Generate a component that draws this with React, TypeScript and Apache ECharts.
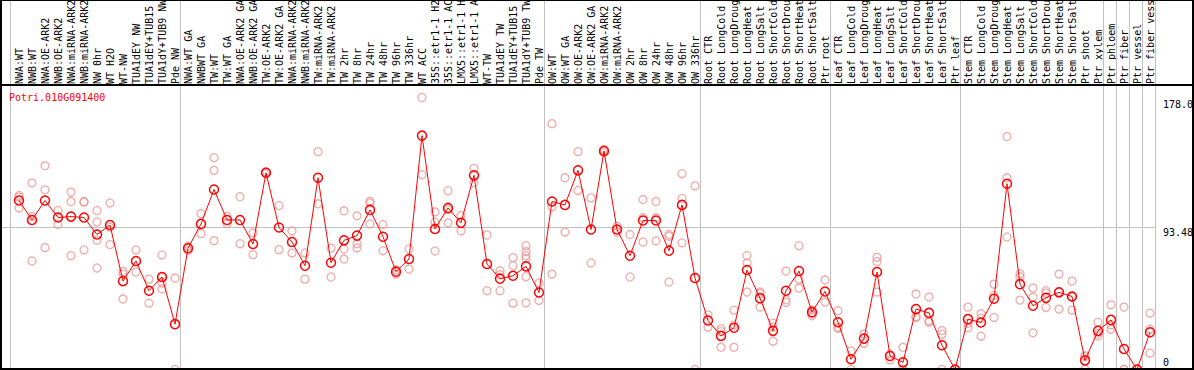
import React, { useEffect, useRef } from "react";
import * as echarts from "echarts";

const geneId = "Potri.010G091400";

const categories = [
  "NWA:WT", "NWB:WT", "NWA:OE-ARK2", "NWB:OE-ARK2", "NWA:miRNA-ARK2", "NWB:miRNA-ARK2",
  "NW 0hr", "WT H2O", "WT-NW", "TUA1dEY NW", "TUA1dEY+TUB15 NW", "TUA1dY+TUB9 NW", "Pde NW",
  "NWA:WT GA", "NWBWT GA", "TW:WT", "TW:WT GA", "NWA:OE-ARK2 GA", "NWB:OE-ARK2 GA",
  "TW:OE-ARK2", "TW:OE-ARK2 GA", "NWA:miRNA-ARK2 GA", "NWB:miRNA-ARK2 GA", "TW:miRNA-ARK2",
  "TW:miRNA-ARK2 GA", "TW 2hr", "TW 8hr", "TW 24hr", "TW 48hr", "TW 96hr", "TW 336hr",
  "WT ACC", "35S::etr1-1 H2O", "35S::etr1-1 ACC", "LMX5::etr1-1 H2O", "LMX5::etr1-1 ACC",
  "WT-TW", "TUA1dEY TW", "TUA1dEY+TUB15 TW", "TUA1dY+TUB9 TW", "Pde TW",
  "OW:WT", "OW:WT GA", "OW:OE-ARK2", "OW:OE-ARK2 GA", "OW:miRNA-ARK2", "OW:miRNA-ARK2 GA",
  "OW 2hr", "OW 8hr", "OW 24hr", "OW 48hr", "OW 96hr", "OW 336hr",
  "Root CTR", "Root LongCold", "Root LongDrought", "Root LongHeat", "Root LongSalt",
  "Root ShortCold", "Root ShortDrought", "Root ShortHeat", "Root ShortSalt", "Ptr root",
  "Leaf CTR", "Leaf LongCold", "Leaf LongDrought", "Leaf LongHeat", "Leaf LongSalt",
  "Leaf ShortCold", "Leaf ShortDrought", "Leaf ShortHeat", "Leaf ShortSalt", "Ptr leaf",
  "Stem CTR", "Stem LongCold", "Stem LongDrought", "Stem LongHeat", "Stem LongSalt",
  "Stem ShortCold", "Stem ShortDrought", "Stem ShortHeat", "Stem ShortSalt", "Ptr shoot",
  "Ptr xylem", "Ptr phloem", "Ptr fiber", "Ptr vessel", "Ptr fiber vessel",
];

const means = [
  111.1, 98.3, 111.1, 99.9, 100.5, 99.9, 88.7, 95.0, 58.1, 71.3, 51.8, 60.8, 29.8,
  79.7, 95.7, 118.3, 98.3, 98.3, 82.5, 129.3, 93.3, 83.8, 68.2, 126.0, 70.2, 84.9, 88.0,
  104.9, 87.3, 64.3, 72.6, 153.7, 92.4, 106.2, 96.4, 127.6, 69.3, 59.7, 61.6, 67.8, 50.6,
  110.4, 108.2, 130.9, 92.0, 143.6, 92.0, 74.8, 97.9, 97.9, 78.1, 108.2, 60.1,
  32.2, 22.1, 27.4, 65.4, 46.9, 25.4, 51.8, 64.7, 37.7, 51.3,
  31.1, 6.7, 20.3, 64.1, 8.9, 4.7, 39.7, 37.2, 15.9, 0,
  33.1, 30.9, 46.5, 122.1, 56.1, 41.9, 47.1, 50.7, 48.0, 6.0, 25.4,
  32.6, 13.5, 0, 24.5,
];

const replicates = [
  [114.4, 113.3, 106.2], [122.7, 100.5, 71.3], [133.9, 118.1, 80.1], [104.5, 95.5],
  [116.6, 110.4, 74.8], [110.4, 110.0, 78.6], [104.5, 97.0, 84.9, 66.7], [109.5, 93.5, 82.1],
  [64.5, 62.7, 46.3], [78.6, 64.1], [59.4, 43.6], [75.3, 61.0, 56.8, 52.9], [60.1, 0],
  [81.0, 78.3], [102.5, 89.3], [139.2, 130.9, 84.7], [100.8, 95.9], [113.5, 82.7],
  [89.8, 75.5], [130.0, 128.7], [107.8, 78.8], [91.1, 76.6], [76.6, 59.4], [143.2, 108.9],
  [79.7, 60.8], [104.3, 79.2, 72.6], [101.0, 82.7, 79.9], [110.6, 109.5, 95.7], [95.3, 78.1],
  [65.6, 62.7], [79.2, 66.0], [178.8, 128.0], [103.6, 96.8, 77.9], [117.5, 105.1, 96.4],
  [101.2, 91.1], [132.2, 122.7], [88.4, 51.8], [64.9, 62.3, 51.8], [73.5, 68.2, 43.6],
  [81.4, 77.5, 74.8, 72.8, 61.0, 43.8], [56.8, 45.4],
  [161.6, 106.9, 62.7], [126.0, 90.4], [143.2, 117.7], [112.8, 70.0], [144.7, 142.5],
  [94.2, 90.2], [88.7, 60.8], [111.7, 99.7, 83.8], [110.4, 99.7, 84.5], [88.7, 87.6, 57.5],
  [128.7, 112.4, 83.2], [120.7, 0],
  [35.9, 27.8], [26.7, 24.9, 14.6], [39.0, 29.3, 14.6], [74.8, 70.0, 50.9], [50.9, 49.8, 41.0],
  [30.4, 27.8, 18.6], [64.7, 45.8, 44.1], [81.4, 59.4, 53.5], [39.2, 36.6, 35.3], [58.8, 44.3],
  [38.6, 27.8, 26.9], [12.2, 0], [23.4, 17.3], [73.7, 71.0, 50.9], [10.2, 6.3], [14.6, 0, 0],
  [49.6, 34.8, 34.2], [47.6, 32.0, 31.1], [25.6, 23.2, 0], [0],
  [41.0, 30.4, 27.4], [36.6, 33.7, 21.9], [56.1, 48.7, 34.2], [153.1, 126.0, 87.1],
  [63.0, 60.8, 45.6], [53.5, 47.6, 24.1], [51.8, 50.2, 40.8], [62.7, 50.9, 39.7],
  [58.1, 47.6, 39.0], [9.1, 8.5, 0], [31.1, 23.8, 22.1],
  [42.5, 29.3, 26.5], [41.0, 0, 0], [0], [37.0, 26.5, 10.7],
];

// index of the last category in each group (vertical separators)
const groupEnds = [12, 40, 52, 62, 72, 83, 84, 85, 86, 87];
const yTickValues = [178.0, 93.48, 0];
const yTickLabels = ["178.0", "93.48", "0"];
const labelChars = 14;

const FONT = "'DejaVu Sans Mono', monospace";

export default function App() {
  const ref = useRef<HTMLDivElement>(null);

  useEffect(() => {
    if (!ref.current) return;
    const chart = echarts.init(ref.current, null, { renderer: "svg" });
    const scatterData: number[][] = [];
    replicates.forEach((reps, i) => reps.forEach((v) => scatterData.push([i, v])));

    chart.setOption({
      animation: false,
      backgroundColor: "#ffffff",
      grid: {
        left: 12.5,
        top: 85,
        width: 1144,
        height: 284.5,
        containLabel: false,
        outerBoundsMode: "none",
      },
      xAxis: {
        type: "category",
        data: categories,
        position: "top",
        boundaryGap: true,
        axisLine: { show: false },
        axisTick: { show: false },
        splitLine: { show: false },
        axisLabel: {
          interval: 0,
          rotate: 90,
          margin: 1,
          fontFamily: FONT,
          fontSize: 10,
          color: "#000000",
          formatter: (s: string) => s.slice(0, labelChars).trimEnd(),
        },
      },
      yAxis: {
        type: "value",
        min: 0,
        max: 187,
        show: false,
        splitLine: { show: false },
      },
      series: [
        {
          type: "scatter",
          data: scatterData,
          symbol: "circle",
          symbolSize: 8,
          clip: false,
          itemStyle: { color: "transparent", borderColor: "#ee9696", borderWidth: 1.3 },
          z: 2,
        },
        {
          type: "line",
          data: means,
          symbol: "circle",
          symbolSize: 9,
          showSymbol: true,
          clip: false,
          lineStyle: { color: "#ff0000", width: 1 },
          itemStyle: { color: "transparent", borderColor: "#ff0000", borderWidth: 1.5 },
          z: 3,
        },
      ],
    });

    const px = (i: number, v: number) =>
      chart.convertToPixel({ gridIndex: 0 }, [i, v]) as number[];
    const xOf = (i: number) => px(i, 0)[0];
    const yOf = (v: number) => px(0, v)[1];
    const r = (n: number) => Math.round(n) + 0.5;

    const sepXs = [xOf(0) - 9, ...groupEnds.map((e) => xOf(e) + 5)];
    const rightPlot = sepXs[sepXs.length - 1];
    const elements: any[] = [];
    sepXs.forEach((x) => {
      elements.push({
        type: "line",
        shape: { x1: r(x), y1: 0, x2: r(x), y2: 369 },
        style: { stroke: "#c0c0c0", lineWidth: 1 },
        z: 1,
      });
    });
    const gy = r(yOf(93.48));
    elements.push({
      type: "line",
      shape: { x1: 2, y1: gy, x2: r(rightPlot), y2: gy },
      style: { stroke: "#c0c0c0", lineWidth: 1 },
      z: 1,
    });
    // frame
    const black = { stroke: "#000000" };
    elements.push({ type: "line", shape: { x1: 0, y1: 0.5, x2: 1194, y2: 0.5 }, style: { ...black, lineWidth: 1 }, z: 10 });
    elements.push({ type: "line", shape: { x1: 0, y1: 85, x2: 1194, y2: 85 }, style: { ...black, lineWidth: 2 }, z: 10 });
    elements.push({ type: "line", shape: { x1: 0, y1: 369, x2: 1194, y2: 369 }, style: { ...black, lineWidth: 2 }, z: 10 });
    elements.push({ type: "line", shape: { x1: 1, y1: 0, x2: 1, y2: 370 }, style: { ...black, lineWidth: 2 }, z: 10 });
    elements.push({ type: "line", shape: { x1: 1193, y1: 0, x2: 1193, y2: 370 }, style: { ...black, lineWidth: 2 }, z: 10 });

    // title
    elements.push({
      type: "text",
      x: 9,
      y: 97,
      style: {
        text: geneId,
        fill: "#ff0000",
        font: `10px ${FONT}`,
        textAlign: "left",
        textVerticalAlign: "middle",
      },
      z: 10,
    });
    // y tick labels
    yTickValues.forEach((v, k) => {
      const isZero = v === 0;
      elements.push({
        type: "text",
        x: 1163,
        y: isZero ? yOf(v) - 2 : yOf(v) + 0.5,
        style: {
          text: yTickLabels[k],
          fill: "#000000",
          font: `10px ${FONT}`,
          textAlign: "left",
          textVerticalAlign: isZero ? "bottom" : "top",
        },
        z: 10,
      });
    });

    chart.setOption({ graphic: { elements } });

    return () => chart.dispose();
  }, []);

  return (
    <div
      ref={ref}
      style={{ position: "fixed", left: 0, top: 0, width: 1194, height: 370, background: "#fff" }}
    />
  );
}
